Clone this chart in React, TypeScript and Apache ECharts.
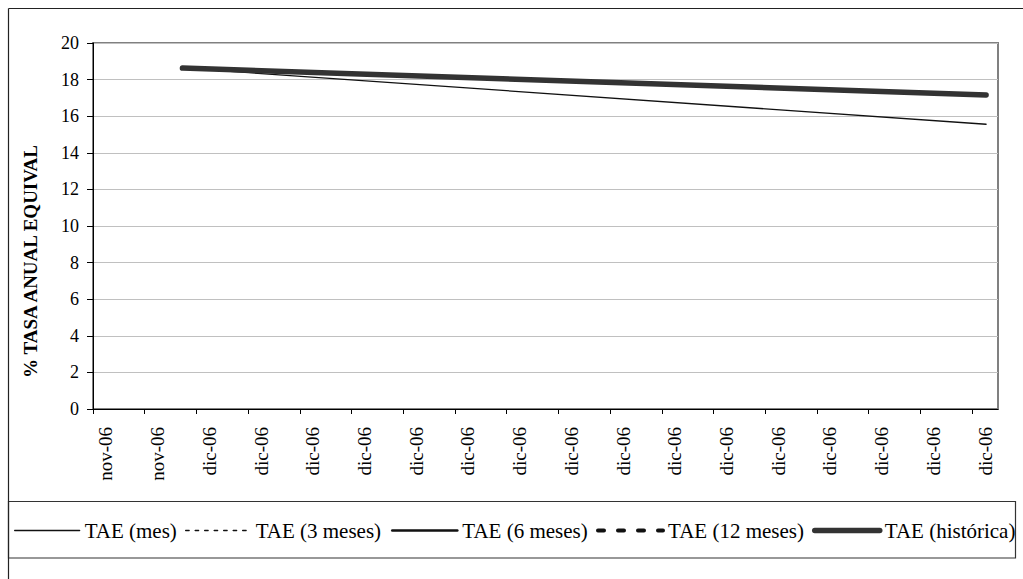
import React, { useEffect, useRef } from "react";
import * as echarts from "echarts";

const xLabels = [
  "nov-06", "nov-06", "dic-06", "dic-06", "dic-06", "dic-06", "dic-06", "dic-06", "dic-06",
  "dic-06", "dic-06", "dic-06", "dic-06", "dic-06", "dic-06", "dic-06", "dic-06", "dic-06",
];
const xPositions = [1.73, 17.27];
const taeMes = [18.63, 15.56];
const tae3Meses: number[] = [];
const tae6Meses: number[] = [];
const tae12Meses: number[] = [];
const taeHistorica = [18.63, 17.16];
const seriesNames = ["TAE (mes)", "TAE (3 meses)", "TAE (6 meses)", "TAE (12 meses)", "TAE (histórica)"];
const yTitle = "% TASA ANUAL EQUIVAL";

const FONT = "'Liberation Serif', 'Times New Roman', serif";
const legendLefts = [14, 185, 391, 596, 812];

function pairs(xs: number[], ys: number[]) {
  return ys.map((y, i) => [xs[i], y]);
}

export default function App() {
  const ref = useRef<HTMLDivElement>(null);
  useEffect(() => {
    if (!ref.current) return;
    const chart = echarts.init(ref.current, undefined, { renderer: "svg" });
    const tickValues = xLabels.map((_, i) => i);
    const labelValues = xLabels.map((_, i) => i + 0.25);
    const styles = [
      { color: "#111", width: 1.3, type: "solid" as any },
      { color: "#111", width: 1.3, type: [3.5, 6] as any },
      { color: "#111", width: 2.6, type: "solid" as any },
      { color: "#111", width: 4, type: [6, 14] as any },
      { color: "#333", width: 5.5, type: "solid" as any },
    ];
    const datas = [taeMes, tae3Meses, tae6Meses, tae12Meses, taeHistorica];
    chart.setOption({
      animation: false,
      backgroundColor: "#fff",
      textStyle: { fontFamily: FONT },
      grid: {
        left: 93,
        top: 43,
        right: 1023 - 998,
        bottom: 579 - 409,
        show: true,
        borderColor: "#808080",
        borderWidth: 2,
        containLabel: false,
      },
      legend: seriesNames.map((name, i) => ({
        show: true,
        left: legendLefts[i],
        top: 520,
        padding: 0,
        itemGap: 0,
        itemWidth: 65,
        itemHeight: 14,
        data: [name],
        itemStyle: { opacity: 0 },
        lineStyle: { width: "inherit", type: "inherit" },
        textStyle: { fontFamily: FONT, fontSize: 21, color: "#000" },
      })),
      xAxis: {
        type: "value",
        min: 0,
        max: 17.5,
        splitLine: { show: false },
        axisLine: { show: true, onZero: false, lineStyle: { color: "#000", width: 1 } },
        axisTick: { show: true, length: 5, customValues: tickValues, lineStyle: { color: "#000" } },
        axisLabel: {
          show: true,
          customValues: labelValues,
          rotate: 90,
          margin: 18,
          fontFamily: FONT,
          fontSize: 19,
          color: "#000",
          formatter: (v: number) => xLabels[Math.round(v - 0.25)] ?? "",
        },
      },
      yAxis: {
        type: "value",
        min: 0,
        max: 20,
        interval: 2,
        splitLine: { show: true, lineStyle: { color: "#c0c0c0", width: 1 } },
        axisLine: { show: true, lineStyle: { color: "#000", width: 1 } },
        axisTick: { show: true, length: 6, lineStyle: { color: "#000" } },
        axisLabel: { margin: 14, fontFamily: FONT, fontSize: 18, color: "#000" },
      },
      series: seriesNames.map((name, i) => ({
        name,
        type: "line",
        data: pairs(xPositions, datas[i]),
        showSymbol: false,
        symbol: "none",
        color: styles[i].color,
        lineStyle: { color: styles[i].color, width: styles[i].width, type: styles[i].type, cap: "round" },
      })),
      graphic: [
        { type: "line", silent: true, shape: { x1: 8.5, y1: 8.5, x2: 1023, y2: 8.5 }, style: { stroke: "#222", lineWidth: 1.2 } },
        { type: "line", silent: true, shape: { x1: 8.5, y1: 8.5, x2: 8.5, y2: 579 }, style: { stroke: "#222", lineWidth: 1.2 } },
        { type: "rect", silent: true, z: -1, shape: { x: 8.5, y: 501.5, width: 1007, height: 56.5 }, style: { fill: "none", stroke: "#333", lineWidth: 1.2 } },
        {
          type: "text",
          x: 30,
          y: 261.5,
          rotation: Math.PI / 2,
          style: {
            text: yTitle,
            fontFamily: FONT,
            fontSize: 19,
            fontWeight: "bold",
            fill: "#000",
            align: "center",
            verticalAlign: "middle",
          },
        },
      ],
    });
    return () => chart.dispose();
  }, []);
  return <div ref={ref} style={{ position: "fixed", left: 0, top: 0, width: 1023, height: 579 }} />;
}
